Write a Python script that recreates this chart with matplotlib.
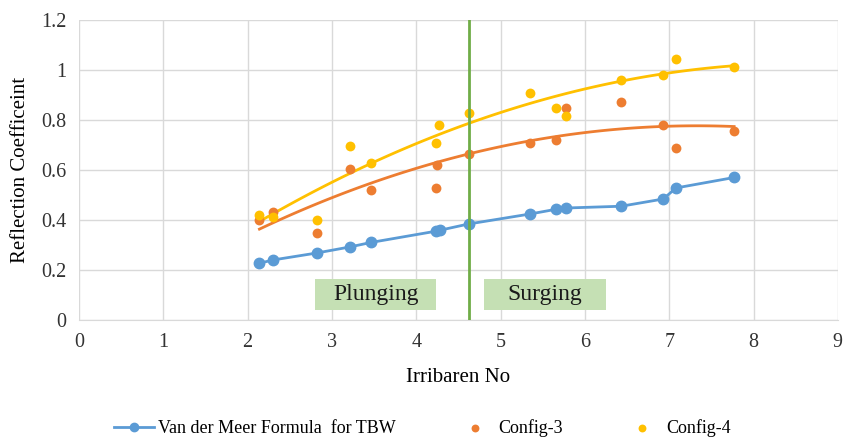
import numpy as np
import matplotlib.pyplot as plt
from matplotlib.patches import Rectangle

# Irribaren number (x) and reflection coefficients
vdm_x = [2.14, 2.30, 2.82, 3.21, 3.46, 4.23, 4.28, 4.62, 5.35, 5.66, 5.78, 6.43, 6.93, 7.08, 7.77]
vdm_y = [0.227, 0.240, 0.268, 0.292, 0.310, 0.355, 0.359, 0.384, 0.424, 0.443, 0.448, 0.455, 0.484, 0.528, 0.570]

cfg3_x = [2.14, 2.30, 2.82, 3.21, 3.46, 4.25, 4.24, 4.62, 5.35, 5.66, 5.78, 6.43, 6.93, 7.08, 7.77]
cfg3_y = [0.400, 0.433, 0.348, 0.605, 0.520, 0.618, 0.528, 0.665, 0.707, 0.718, 0.848, 0.871, 0.778, 0.689, 0.756]

cfg4_x = [2.14, 2.30, 2.82, 3.21, 3.46, 4.27, 4.24, 4.62, 5.35, 5.66, 5.78, 6.43, 6.93, 7.08, 7.77]
cfg4_y = [0.420, 0.411, 0.400, 0.695, 0.629, 0.780, 0.707, 0.828, 0.908, 0.847, 0.815, 0.959, 0.979, 1.045, 1.010]

breaker_split = 4.62
regions = ['Plunging', 'Surging']
region_x = [(2.80, 4.24), (4.80, 6.25)]
region_y = (0.04, 0.165)

plt.rcParams['font.family'] = ['Liberation Serif', 'DejaVu Serif']

fig = plt.figure(figsize=(8.45, 4.38), dpi=100)
ax = fig.add_axes([0.0935, 0.2694, 0.898, 0.685])

blue, orange, yellow, green = '#5b9bd5', '#ed7d31', '#ffc000', '#70ad47'

# polynomial (order 2) trendlines like Excel
for xs, ys, c in [(cfg3_x, cfg3_y, orange), (cfg4_x, cfg4_y, yellow)]:
    p = np.polyfit(xs, ys, 2)
    xx = np.linspace(min(xs), max(xs), 100)
    ax.plot(xx, np.polyval(p, xx), color=c, lw=2, zorder=2)

ax.plot(vdm_x, vdm_y, color=blue, lw=2, marker='o', ms=7.5,
        label='Van der Meer Formula  for TBW', zorder=4)
ax.scatter(cfg3_x, cfg3_y, s=50, color=orange, label='Config-3', zorder=3, linewidths=0)
ax.scatter(cfg4_x, cfg4_y, s=50, color=yellow, label='Config-4', zorder=3, linewidths=0)

ax.axvline(breaker_split, color=green, lw=2, zorder=5)

# region labels
for name, (x0, x1) in zip(regions, region_x):
    ax.add_patch(Rectangle((x0, region_y[0]), x1 - x0, region_y[1] - region_y[0],
                           facecolor='#c5e0b4', edgecolor='none', zorder=1))
    ax.text((x0 + x1) / 2, sum(region_y) / 2, name, ha='center', va='center',
            fontsize=17, color='#1a1a1a', zorder=2)

ax.set_xlim(0, 9)
ax.set_ylim(0, 1.2)
ax.set_xticks(range(0, 10))
ax.set_yticks([0, 0.2, 0.4, 0.6, 0.8, 1.0, 1.2])
ax.set_yticklabels(['0', '0.2', '0.4', '0.6', '0.8', '1', '1.2'])
ax.grid(True, color='#d9d9d9', lw=1)
ax.set_axisbelow(True)
for s in ax.spines.values():
    s.set_visible(False)
ax.spines['bottom'].set_visible(True)
ax.spines['bottom'].set_color('#d9d9d9')
ax.tick_params(length=0, pad=9, labelsize=14.5, labelcolor='#333333')

ax.set_xlabel('Irribaren No', fontsize=15, labelpad=12)
ax.set_ylabel('Reflection Coefficeint', fontsize=15, labelpad=8)

fig.legend(loc='center', bbox_to_anchor=(0.5, 10 / 438), ncol=3, frameon=False,
           fontsize=13, markerscale=0.8, columnspacing=3.3, handlelength=2.2,
           handletextpad=0.2)

fig.savefig('out.png', dpi=100)
